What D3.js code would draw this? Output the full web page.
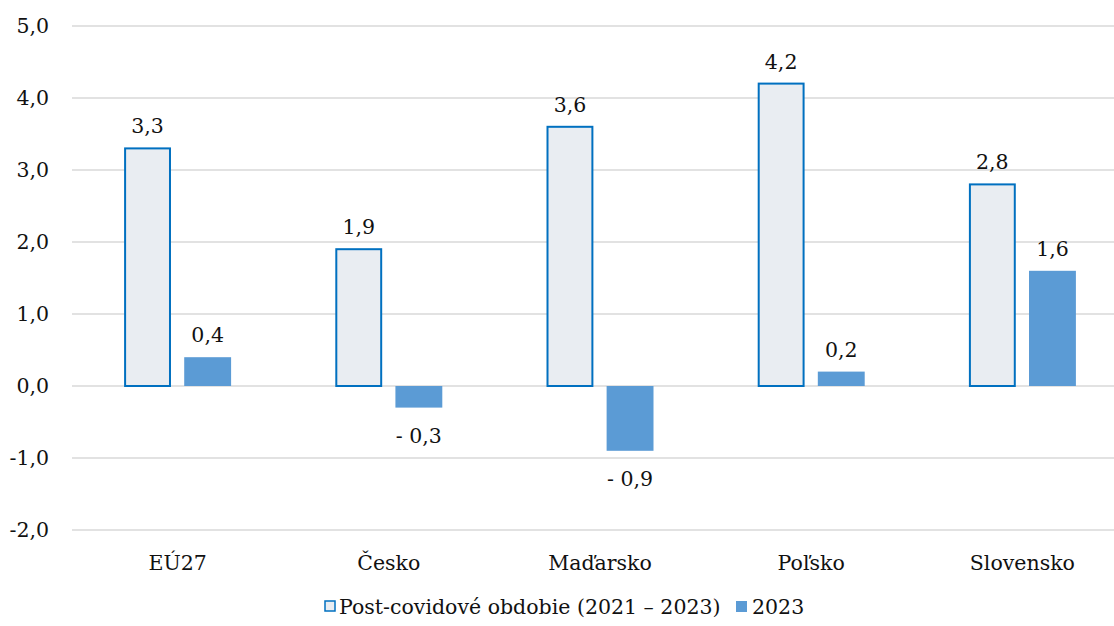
<!DOCTYPE html>
<html>
<head>
<meta charset="utf-8">
<script src="https://cdn.jsdelivr.net/npm/d3@7"></script>
<style>
  body { margin: 0; background: #fff; }
  text { font-family: "DejaVu Serif", serif; fill: #111; }
</style>
</head>
<body>
<script>
// data
const categories = ["EÚ27", "Česko", "Maďarsko", "Poľsko", "Slovensko"];
const seriesNames = ["Post-covidové obdobie (2021 – 2023)", "2023"];
const postCovid = [3.3, 1.9, 3.6, 4.2, 2.8];
const year2023 = [0.4, -0.3, -0.9, 0.2, 1.6];
const yTicks = [-2, -1, 0, 1, 2, 3, 4, 5];

const width = 1114;
const height = 626;
const margin = { top: 26, right: -14, bottom: 96, left: 72 };

const fontSize = 20.5;

let svg = d3.select("body")
    .append("svg")
    .attr("width", width)
    .attr("height", height);

let x0 = d3.scaleBand()
    .domain(categories)
    .range([margin.left, width - margin.right])
    .paddingInner(0)
    .paddingOuter(0);

const groupW = 107;
let x1 = d3.scaleBand()
    .domain([0, 1])
    .range([0, groupW])
    .paddingInner(0.22);

let y = d3.scaleLinear()
    .domain([-2, 5])
    .range([height - margin.bottom, margin.top]);

const fmt = function (v) {
    let s = d3.format(".1f")(Math.abs(v)).replace(".", ",");
    return v < 0 ? "- " + s : s;
};

// gridlines
svg.append("g")
    .selectAll("line")
    .data(yTicks)
    .enter()
    .append("line")
    .attr("x1", margin.left)
    .attr("x2", width)
    .attr("y1", d => y(d))
    .attr("y2", d => y(d))
    .attr("stroke", "#d9d9d9")
    .attr("stroke-width", 1.5);

// y tick labels
svg.append("g")
    .selectAll("text")
    .data(yTicks)
    .enter()
    .append("text")
    .attr("x", 49)
    .attr("y", d => y(d))
    .attr("dy", "0.35em")
    .attr("text-anchor", "end")
    .style("font-size", fontSize + "px")
    .text(d => d3.format(".1f")(d).replace(".", ",").replace("−", "-"));

// bars
const rows = categories.map((c, i) => ({ cat: c, vals: [postCovid[i], year2023[i]] }));

let groups = svg.append("g")
    .selectAll("g")
    .data(rows)
    .enter()
    .append("g")
    .attr("transform", d => "translate(" + (x0(d.cat) + x0.bandwidth() / 2 - groupW / 2) + ",0)");

groups.selectAll("rect")
    .data(d => d.vals.map((v, k) => ({ v: v, k: k })))
    .enter()
    .append("rect")
    .attr("x", d => x1(d.k) + (d.k === 0 ? 1 : 0))
    .attr("width", d => x1.bandwidth() - (d.k === 0 ? 2 : 0))
    .attr("y", d => y(Math.max(0, d.v)))
    .attr("height", d => Math.abs(y(d.v) - y(0)))
    .attr("fill", d => d.k === 0 ? "#e9edf2" : "#5b9bd5")
    .attr("stroke", d => d.k === 0 ? "#0070c0" : "none")
    .attr("stroke-width", 2);

// value labels
groups.selectAll("text")
    .data(d => d.vals.map((v, k) => ({ v: v, k: k })))
    .enter()
    .append("text")
    .attr("x", d => x1(d.k) + x1.bandwidth() / 2)
    .attr("y", d => d.v >= 0 ? y(d.v) - 15 : y(d.v) + 35)
    .attr("text-anchor", "middle")
    .style("font-size", fontSize + "px")
    .text(d => fmt(d.v));

// category labels
svg.append("g")
    .selectAll("text")
    .data(categories)
    .enter()
    .append("text")
    .attr("x", d => x0(d) + x0.bandwidth() / 2)
    .attr("y", 570)
    .attr("text-anchor", "middle")
    .style("font-size", fontSize + "px")
    .text(d => d);

// legend
let legend = svg.append("g").attr("transform", "translate(0,607)");
legend.append("rect")
    .attr("x", 325).attr("y", -6).attr("width", 10).attr("height", 10)
    .attr("fill", "#e9edf2").attr("stroke", "#0070c0").attr("stroke-width", 1.5);
legend.append("text")
    .attr("x", 339).attr("y", 0).attr("dy", "0.35em")
    .style("font-size", fontSize + "px")
    .text(seriesNames[0]);
legend.append("rect")
    .attr("x", 736).attr("y", -6).attr("width", 11).attr("height", 11)
    .attr("fill", "#5b9bd5");
legend.append("text")
    .attr("x", 752).attr("y", 0).attr("dy", "0.35em")
    .style("font-size", fontSize + "px")
    .text(seriesNames[1]);
</script>
</body>
</html>
